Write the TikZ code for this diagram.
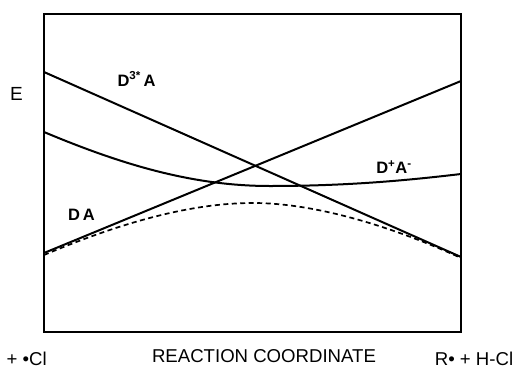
\documentclass[tikz,border=0pt]{standalone}
\usepackage{fontspec}
\setmainfont{Liberation Sans}
\begin{document}
\begin{tikzpicture}[x=1pt,y=-1pt,
  curve/.style={line width=2pt,line join=round},
  lab/.style={font=\bfseries\fontsize{16.5}{16.5}\selectfont,inner sep=0pt},
  big/.style={font=\fontsize{18.6}{18.6}\selectfont,inner sep=0pt}]
\useasboundingbox (0,0) rectangle (516,372);
\coordinate (tl) at (44,14);
\coordinate (br) at (461,332);
\draw[line width=2.2pt] (tl) rectangle (br);
% end points
\coordinate (a1) at (44,72);
\coordinate (a2) at (461,257);
\coordinate (b1) at (44,253);
\coordinate (b2) at (461,81);
\coordinate (c1) at (44,132);
\coordinate (cm) at (270,186);
\coordinate (c2) at (461,174);
\coordinate (d1) at (44,255);
\coordinate (dm) at (253,203);
\coordinate (d2) at (461,258);
\draw[curve] (a1) -- (a2);
\draw[curve] (b1) -- (b2);
\draw[curve] (c1) .. controls (125,166) and (195,186) .. (cm)
  .. controls (350,186) and (410,180) .. (c2);
\draw[curve,dash pattern=on 5pt off 3.5pt,line width=1.7pt] (d1) .. controls (120,223) and (190,203) .. (dm)
  .. controls (320,203) and (400,230) .. (d2);
% labels
\node[font=\fontsize{19}{19}\selectfont,inner sep=0pt] (E) at (16.5,94) {E};
\node[lab] (d3a) at (136.5,79) {D\textsuperscript{3*}\,A};
\node[lab] (dpa) at (394,167) {D\textsuperscript{+}A\textsuperscript{-}};
\node[lab] (da) at (81.5,215) {D\,A};
\node[big] (rc) at (264,356) {REACTION COORDINATE};
\node[big] (rhcl) at (474,359) {R• + H-Cl};
\node[big,anchor=east] (hcl) at (47,359) {H + •Cl};
\end{tikzpicture}
\end{document}
